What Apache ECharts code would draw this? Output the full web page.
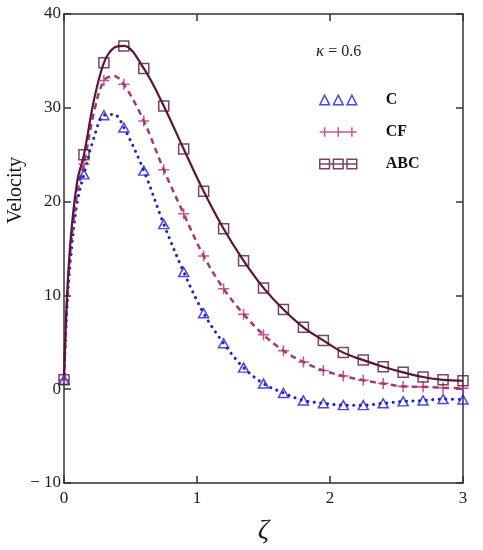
<!DOCTYPE html>
<html lang="en">
<head>
    <meta http-equiv="Content-Type" content="text/html; charset=utf-8"/>
    <title>Velocity</title>
    <script type="text/javascript" src="https://cdn.jsdelivr.net/npm/echarts@6/dist/echarts.min.js"></script>
    <style>
        html, body { margin: 0; padding: 0; background: #fff; }
    </style>
</head>
<body>
<div id="showChart" style="width:483px;height:550px;"></div>
<script type="text/javascript">
    // marker positions (zeta)
    var xMarks = [0, 0.15, 0.3, 0.45, 0.6, 0.75, 0.9, 1.05, 1.2, 1.35, 1.5, 1.65, 1.8, 1.95, 2.1, 2.25, 2.4, 2.55, 2.7, 2.85, 3.0];
    var cMarks = [1, 22.9, 29.2, 27.9, 23.3, 17.6, 12.5, 8.1, 4.9, 2.3, 0.6, -0.4, -1.2, -1.5, -1.7, -1.7, -1.5, -1.3, -1.2, -1.05, -1.1];
    var cfMarks = [1, 24.0, 32.9, 32.5, 28.6, 23.4, 18.7, 14.2, 10.7, 8.0, 5.8, 4.1, 2.9, 2.0, 1.4, 0.95, 0.6, 0.3, 0.25, 0.15, 0.1];
    var abcMarks = [1, 25.0, 34.8, 36.6, 34.2, 30.2, 25.6, 21.1, 17.1, 13.7, 10.8, 8.5, 6.6, 5.2, 3.9, 3.1, 2.4, 1.8, 1.3, 1.0, 0.9];

    var xExtra = [0.02, 0.05, 0.1, 0.225, 0.375];
    var cExtra = [8, 14, 20, 26.8, 29.3];
    var cfExtra = [8.5, 15, 21, 29.5, 33.4];
    var abcExtra = [9, 16, 22.2, 30.8, 36.4];

    var xTicks = [0, 1, 2, 3];
    var yTicks = [-10, 0, 10, 20, 30, 40];

    var serif = "'Liberation Serif', 'Times New Roman', serif";
    var colC = '#1c1ce6', colCF = '#b8306e', colABC = '#5a1638';

    function pairs(xs, ys) {
        var out = [];
        for (var i = 0; i < xs.length; i++) out.push([xs[i], ys[i]]);
        return out;
    }
    function curve(marks, extra) {
        return pairs(xMarks, marks).concat(pairs(xExtra, extra)).sort(function (a, b) { return a[0] - b[0]; });
    }

    var plusPath = 'path://M4.3,0 H5.7 V4.3 H10 V5.7 H5.7 V10 H4.3 V5.7 H0 V4.3 H4.3 Z';

    var myChart = echarts.init(document.getElementById('showChart'));
    var option = {
        backgroundColor: '#fff',
        animation: false,
        grid: {left: 64, right: 20, top: 14, bottom: 65},
        legend: {
            orient: 'vertical',
            left: 314,
            top: 87,
            itemWidth: 37,
            itemHeight: 10,
            itemGap: 16,
            textStyle: {fontFamily: serif, fontWeight: 'bold', fontSize: 16, color: '#111', padding: [0, 0, 0, 24]},
            data: [
                {name: 'C', icon: 'path://M0,10 L5,0 L10,10 Z M14,10 L19,0 L24,10 Z M28,10 L33,0 L38,10 Z',
                    itemStyle: {color: 'transparent', borderColor: colC, borderWidth: 1.5}},
                {name: 'CF', icon: 'path://M0,5 H38 M5,0 V10 M19,0 V10 M33,0 V10',
                    itemStyle: {color: 'transparent', borderColor: colCF, borderWidth: 1.5}},
                {name: 'ABC', icon: 'path://M0,0 H10 V10 H0 Z M14,0 H24 V10 H14 Z M28,0 H38 V10 H28 Z M0,5 H38',
                    itemStyle: {color: 'transparent', borderColor: colABC, borderWidth: 1.5}}
            ]
        },
        graphic: [
            {type: 'text', left: 316, top: 43,
                style: {text: '{k|κ} = 0.6', fill: '#222', font: '16px ' + serif,
                    rich: {k: {fontStyle: 'italic', fontSize: 17, fontFamily: serif, fill: '#222'}}}},
            {type: 'text', left: 6, top: 157, rotation: Math.PI / 2,
                style: {text: 'Velocity', fill: '#111', font: '20px ' + serif}}
        ],
        xAxis: [
            {
                type: 'value', min: 0, max: 3, interval: 1,
                name: 'ζ', nameLocation: 'middle', nameGap: 34,
                nameTextStyle: {fontFamily: serif, fontStyle: 'italic', fontSize: 28, color: '#222'},
                axisLine: {onZero: false, lineStyle: {color: '#333', width: 1.5}},
                axisTick: {inside: true, length: 7, lineStyle: {color: '#333', width: 1.5}},
                axisLabel: {fontFamily: serif, fontSize: 17, color: '#222', margin: 7,
                    customValues: xTicks},
                splitLine: {show: false}
            },
            {
                type: 'value', min: 0, max: 3, interval: 1, position: 'top',
                axisLine: {onZero: false, lineStyle: {color: '#333', width: 1.5}},
                axisTick: {inside: true, length: 7, lineStyle: {color: '#333', width: 1.5}},
                axisLabel: {show: false},
                splitLine: {show: false}
            }
        ],
        yAxis: [
            {
                type: 'value', min: -10, max: 40, interval: 10,
                axisLine: {onZero: false, lineStyle: {color: '#333', width: 1.5}},
                axisTick: {inside: true, length: 7, lineStyle: {color: '#333', width: 1.5}},
                axisLabel: {fontFamily: serif, fontSize: 17, color: '#222', margin: 3,
                    customValues: yTicks,
                    formatter: function (v) { return v < 0 ? '\u2212 ' + Math.abs(v) : String(v); }},
                splitLine: {show: false}
            },
            {
                type: 'value', min: -10, max: 40, interval: 10, position: 'right',
                axisLine: {onZero: false, lineStyle: {color: '#333', width: 1.5}},
                axisTick: {inside: true, length: 7, lineStyle: {color: '#333', width: 1.5}},
                axisLabel: {show: false},
                splitLine: {show: false}
            }
        ],
        series: [
            {
                name: 'C-curve', type: 'line', smooth: 0.35, showSymbol: false, z: 2,
                data: curve(cMarks, cExtra),
                lineStyle: {color: colC, width: 3, type: [0.1, 6.5], cap: 'round'}
            },
            {
                name: 'CF-curve', type: 'line', smooth: 0.35, showSymbol: false, z: 2,
                data: curve(cfMarks, cfExtra),
                lineStyle: {color: '#a23a74', width: 2.5, type: [6, 4.5]}
            },
            {
                name: 'ABC-curve', type: 'line', smooth: 0.35, showSymbol: false, z: 2,
                data: curve(abcMarks, abcExtra),
                lineStyle: {color: colABC, width: 2.2}
            },
            {
                name: 'C', type: 'scatter', symbol: 'triangle', symbolSize: [10, 9], z: 3,
                data: pairs(xMarks, cMarks),
                itemStyle: {color: 'transparent', borderColor: colC, borderWidth: 1.5}
            },
            {
                name: 'CF', type: 'scatter', symbol: plusPath, symbolSize: 11, z: 3,
                data: pairs(xMarks, cfMarks),
                itemStyle: {color: colCF}
            },
            {
                name: 'ABC', type: 'scatter', symbol: 'rect', symbolSize: 10, z: 3,
                data: pairs(xMarks, abcMarks),
                itemStyle: {color: 'transparent', borderColor: colABC, borderWidth: 1.5}
            }
        ]
    };
    myChart.setOption(option);
</script>
</body>
</html>
